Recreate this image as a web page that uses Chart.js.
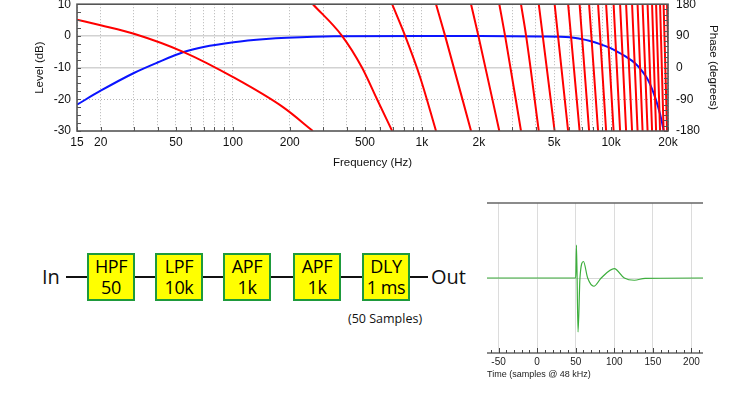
<!DOCTYPE html>
<html>
<head>
<meta charset="utf-8">
<script src="https://cdn.jsdelivr.net/npm/chart.js@4.4.1/dist/chart.umd.min.js"></script>
<style>
  body { margin: 0; background: #fff; width: 750px; height: 400px; overflow: hidden; position: relative; }
  #bode { position: absolute; left: 0; top: -11px; }
  #impulse { position: absolute; left: 470px; top: 190px; }
  .txt { position: absolute; font-family: "Open Sans", sans-serif; color: #111; white-space: nowrap; }
  .block { position: absolute; top: 253px; width: 48px; height: 48px; box-sizing: border-box;
           background: #ffff00; border: 2px solid #1e9a3c; font-family: "Open Sans", sans-serif;
           font-size: 18px; line-height: 21px; text-align: center; letter-spacing: -0.4px; padding-top: 1px; }
  #wire { position: absolute; left: 66px; top: 276px; width: 362px; height: 2px; background: #111; }
</style>
</head>
<body>
<canvas id="bode" width="750" height="181"></canvas>
<canvas id="impulse" width="260" height="190"></canvas>
<div id="wire"></div>
<div id="diagram"></div>
<script>
// magnitude response (blue)
const magFreq = [15, 20, 30, 40, 55, 70, 101, 150, 193, 341, 1000, 2000, 4213, 6072, 6857, 7746, 8750, 9880, 10498, 11860, 13395, 14528, 15750, 17096, 18166, 18908, 19200];
const magDb = [-21.7, -17.3, -11.7, -8.4, -5.1, -3.5, -2.0, -1.0, -0.6, -0.1, 0, 0, -0.15, -0.4, -0.9, -1.6, -2.6, -3.8, -4.6, -6.4, -8.6, -10.95, -14.1, -19.4, -24.7, -29.5, -32];

// phase response (red), wraps from -180 back to 180
const phaseFreq = [15, 20, 30, 55, 101, 185, 265,
  265, 377, 481, 578, 696,
  696, 815, 979, 1187,
  1187, 1326, 1818,
  1818, 1989, 2565,
  2565, 2752, 3340,
  3340, 3555, 4147,
  4147, 5030, 5030, 5928, 5928, 6817, 6817, 7653, 7653, 8538, 8538, 9415,
  9415, 10314, 10314, 11161, 11161, 12008, 12008, 12915, 12915, 13809,
  13809, 14676, 14676, 15596, 15596, 16475, 16475, 17300, 17300, 18159,
  18159, 18956, 18956, 19775, 19775, 20000];
const phaseDeg = [136, 120, 96, 44, -28, -113, -180,
  180, 91, 1, -89, -180,
  180, 90, -28, -180,
  180, 90, -180,
  180, 90, -180,
  180, 90, -180,
  180, 90, -180,
  180, -180, 180, -180, 180, -180, 180, -180, 180, -180, 180, -180,
  180, -180, 180, -180, 180, -180, 180, -180, 180, -180,
  180, -180, 180, -180, 180, -180, 180, -180, 180, -180,
  180, -180, 180, -180, 180, 70];

// frequency axis
const freqGrid = [15, 20, 30, 40, 50, 60, 70, 80, 90, 100, 200, 300, 400, 500, 600, 700, 800, 900,
  1000, 2000, 3000, 4000, 5000, 6000, 7000, 8000, 9000, 10000, 20000];
const freqLabelValues = [15, 20, 50, 100, 200, 500, 1000, 2000, 5000, 10000, 20000];
const freqLabelText = ['15', '20', '50', '100', '200', '500', '1k', '2k', '5k', '10k', '20k'];

// impulse response (green)
const impSample = [-66, 49, 50, 51, 53, 55.5, 60, 65.5, 73.5, 83, 100, 113, 126, 140, 215];
const impValue = [0, 0, 0, 0.44, -0.72, 0, 0.22, 0, -0.11, 0, 0.125, 0, -0.03, -0.004, 0];

// block diagram
const blockNames = ['HPF', 'LPF', 'APF', 'APF', 'DLY'];
const blockValues = ['50', '10k', '1k', '1k', '1 ms'];
const blockLeft = [87, 155, 223, 293, 362];

const tickFont = { family: 'Liberation Sans', size: 12 };
const axisColor = '#555';

const phasePts = [];
phaseFreq.forEach((f, i) => {
  if (i > 0 && phaseDeg[i - 1] === -180 && phaseDeg[i] === 180) phasePts.push({ x: f, y: null });
  phasePts.push({ x: f, y: phaseDeg[i] });
});

const framePlugin = {
  id: 'frame',
  afterDatasetsDraw(chart) {
    const { ctx, chartArea: a, scales } = chart;
    ctx.save();
    ctx.strokeStyle = axisColor;
    ctx.lineWidth = 1;
    // small inner ticks
    ctx.beginPath();
    for (let v = -30; v <= 10; v += 2.5) {
      const y = Math.round(scales.y.getPixelForValue(v)) + 0.5;
      ctx.moveTo(a.left, y); ctx.lineTo(a.left + 4, y);
    }
    for (let v = -180; v <= 180; v += 15) {
      const y = Math.round(scales.yp.getPixelForValue(v)) + 0.5;
      ctx.moveTo(a.right, y); ctx.lineTo(a.right - 4, y);
    }
    freqGrid.forEach(f => {
      const x = Math.round(scales.x.getPixelForValue(f)) + 0.5;
      ctx.moveTo(x, a.bottom); ctx.lineTo(x, a.bottom - 4);
    });
    ctx.stroke();
    ctx.lineWidth = 1.6;
    ctx.strokeRect(a.left, a.top, a.right - a.left, a.bottom - a.top);
    ctx.restore();
  }
};

new Chart(document.getElementById('bode'), {
  type: 'line',
  data: {
    datasets: [{
      data: phasePts,
      yAxisID: 'yp',
      borderColor: '#ff0000',
      borderWidth: 2,
      pointRadius: 0,
      cubicInterpolationMode: 'monotone',
      spanGaps: false
    }, {
      data: magFreq.map((f, i) => ({ x: f, y: magDb[i] })),
      yAxisID: 'y',
      borderColor: '#0a14ff',
      borderWidth: 2,
      pointRadius: 0,
      cubicInterpolationMode: 'monotone'
    }]
  },
  options: {
    responsive: false,
    animation: false,
    events: [],
    layout: { padding: { left: 29, right: 30, top: 0, bottom: 0 } },
    plugins: { legend: { display: false }, tooltip: { enabled: false } },
    scales: {
      x: {
        type: 'logarithmic',
        min: 15, max: 20000,
        afterBuildTicks(scale) { scale.ticks = freqGrid.map(v => ({ value: v })); },
        afterFit(scale) { scale.height = 39; },
        ticks: {
          autoSkip: false, maxRotation: 0, padding: 4, color: '#111', font: tickFont,
          callback(v) {
            const k = freqLabelValues.indexOf(v);
            return k >= 0 ? freqLabelText[k] : '';
          }
        },
        grid: { color: '#b4b4b4', lineWidth: 1, drawTicks: false },
        border: { display: false, dash: [1, 2] },
        title: { display: true, text: 'Frequency (Hz)', color: '#111', font: { family: 'Liberation Sans', size: 11.5 }, padding: { top: 1, bottom: 0 } }
      },
      y: {
        position: 'left',
        min: -30, max: 10,
        afterFit(scale) { scale.width = 48; },
        ticks: { stepSize: 10, padding: 6, color: '#111', font: tickFont },
        grid: {
          drawTicks: false,
          lineWidth: c => (c.tick && c.tick.value === -20) ? 1 : 1.6,
          color: c => {
            if (!c.tick) return 'transparent';
            const v = c.tick.value;
            if (v === 0 || v === -10) return '#d2d2d2';
            if (v === -20) return '#b4b4b4';
            return 'transparent';
          }
        },
        border: { display: false, dash: c => (c.tick && c.tick.value === -20) ? [1, 2] : [] },
        title: { display: true, text: 'Level (dB)', color: '#111', font: { family: 'Liberation Sans', size: 11.5 }, padding: { top: 4, bottom: 0 } }
      },
      yp: {
        position: 'right',
        min: -180, max: 180,
        afterFit(scale) { scale.width = 52; },
        ticks: { stepSize: 45, padding: 8, color: '#111', font: tickFont },
        grid: { display: false, drawTicks: false },
        border: { display: false },
        title: { display: true, text: 'Phase (degrees)', color: '#111', font: { family: 'Liberation Sans', size: 11.5 }, padding: { top: 0, bottom: 0 } }
      }
    }
  },
  plugins: [framePlugin]
});

const impPlugin = {
  id: 'impframe',
  afterDatasetsDraw(chart) {
    const { ctx, chartArea: a, scales } = chart;
    ctx.save();
    ctx.strokeStyle = '#666';
    ctx.lineWidth = 1.5;
    ctx.beginPath();
    ctx.moveTo(a.left, a.top); ctx.lineTo(a.right, a.top);
    ctx.moveTo(a.left, a.bottom); ctx.lineTo(a.right, a.bottom);
    ctx.stroke();
    ctx.lineWidth = 1;
    ctx.strokeStyle = '#444';
    ctx.beginPath();
    for (let s = -60; s <= 210; s += 10) {
      const x = Math.round(scales.x.getPixelForValue(s)) + 0.5;
      ctx.moveTo(x, a.bottom); ctx.lineTo(x, a.bottom - (s % 50 === 0 ? 5 : 3));
    }
    ctx.stroke();
    ctx.restore();
  }
};

new Chart(document.getElementById('impulse'), {
  type: 'line',
  data: {
    datasets: [{
      data: impSample.map((s, i) => ({ x: s, y: impValue[i] })),
      borderColor: '#3cae3c',
      borderWidth: 1.2,
      pointRadius: 0,
      cubicInterpolationMode: 'monotone'
    }]
  },
  options: {
    responsive: false,
    animation: false,
    events: [],
    layout: { padding: { left: 17, right: 27, top: 13, bottom: 0 } },
    plugins: { legend: { display: false }, tooltip: { enabled: false } },
    scales: {
      x: {
        type: 'linear',
        min: -65, max: 215,
        afterFit(scale) { scale.height = 27; },
        ticks: { stepSize: 50, includeBounds: false, padding: 3, color: '#222', font: { family: 'Liberation Sans', size: 10 } },
        grid: { color: '#dcdcdc', lineWidth: 1, drawTicks: false },
        border: { display: false },
        title: { display: true, text: 'Time (samples @ 48 kHz)', align: 'start', color: '#222', font: { family: 'Liberation Sans', size: 9 }, padding: { top: 0, bottom: 0 } }
      },
      y: {
        min: -1, max: 1,
        ticks: { display: false },
        afterFit(scale) { scale.width = 0; },
        grid: { drawTicks: false, color: c => (c.tick && c.tick.value === 0) ? '#d8d8d8' : 'transparent' },
        border: { display: false }
      }
    }
  },
  plugins: [impPlugin]
});

// block diagram, plain HTML
const diagram = document.getElementById('diagram');
function addText(text, left, top, size) {
  const d = document.createElement('div');
  d.className = 'txt';
  d.style.left = left + 'px';
  d.style.top = top + 'px';
  d.style.fontSize = size + 'px';
  d.textContent = text;
  diagram.appendChild(d);
}
addText('In', 42, 263, 20);
addText('Out', 431, 263, 20);
addText('(50 Samples)', 348, 310, 12.5);
blockNames.forEach((name, i) => {
  const b = document.createElement('div');
  b.className = 'block';
  b.style.left = blockLeft[i] + 'px';
  b.innerHTML = name + '<br>' + blockValues[i];
  diagram.appendChild(b);
});
</script>
</body>
</html>
